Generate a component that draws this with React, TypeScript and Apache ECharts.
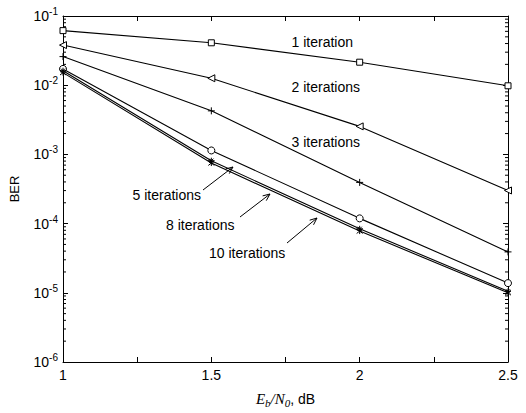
import React, { useEffect, useRef } from 'react';
import * as echarts from 'echarts';

// Eb/N0 in dB
const snrDb = [1, 1.5, 2, 2.5];
// BER per number of decoder iterations
const ber1 = [0.0615, 0.041, 0.0215, 0.0098];
const ber2 = [0.038, 0.0126, 0.00254, 0.000301];
const ber3 = [0.0259, 0.00426, 0.000394, 3.9e-5];
const ber5 = [0.0172, 0.00114, 0.000119, 1.38e-5];
const ber8 = [0.0162, 0.00081, 8.4e-5, 1.05e-5];
const ber10 = [0.0152, 0.00075, 7.8e-5, 1.0e-5];

const seriesNames = ['1 iteration', '2 iterations', '3 iterations', '5 iterations', '8 iterations', '10 iterations'];
const yMinorMultipliers = [2, 3, 4, 5, 6, 7, 8, 9];
const yDecades = [-6, -5, -4, -3, -2];

// annotation layout (pixels)
const labelLayout = [
  { text: '1 iteration', x: 353, y: 42, align: 'right' },
  { text: '2 iterations', x: 360, y: 87, align: 'right' },
  { text: '3 iterations', x: 360, y: 142, align: 'right' },
  { text: '5 iterations', x: 201, y: 195, align: 'right' },
  { text: '8 iterations', x: 166, y: 225, align: 'left' },
  { text: '10 iterations', x: 209, y: 253, align: 'left' },
];
const arrowLayout = [
  { from: [203, 190], to: [233, 167] },
  { from: [240, 217], to: [270, 194] },
  { from: [287, 243], to: [317, 218] },
];

const SYM_SQUARE = 'rect';
const SYM_TRI_LEFT = 'path://M0,5 L10,0 L10,10 Z';
const SYM_PLUS = 'path://M5,0 L5,10 M0,5 L10,5';
const SYM_STAR = 'path://M5,0 L5,10 M0,5 L10,5 M1.5,1.5 L8.5,8.5 M8.5,1.5 L1.5,8.5';
const SYM_X = 'path://M1,1 L9,9 M9,1 L1,9 M5,0 L5,10';

export default function App() {
  const ref = useRef<HTMLDivElement>(null);
  useEffect(() => {
    const chart = echarts.init(ref.current!, null, { renderer: 'svg' });
    const font = '"Liberation Sans", Arial, sans-serif';
    const allBer = [ber1, ber2, ber3, ber5, ber8, ber10];
    const symbols = [SYM_SQUARE, SYM_TRI_LEFT, SYM_PLUS, 'circle', SYM_STAR, SYM_X];
    const symbolSizes = [6, 7, 7, 7, 6, 6];

    const minorData: number[][] = [];
    yDecades.forEach((d) => yMinorMultipliers.forEach((m) => minorData.push([1, m * Math.pow(10, d)])));

    const lineSeries = allBer.map((arr, i) => ({
      type: 'line',
      name: seriesNames[i],
      data: snrDb.map((x, j) => [x, arr[j]]),
      symbol: symbols[i],
      symbolSize: symbolSizes[i],
      showAllSymbol: true,
      lineStyle: { color: '#000', width: 1.1 },
      itemStyle: { color: '#fff', borderColor: '#000', borderWidth: 1 },
      z: 3,
    }));

    const graphics: any[] = [];
    labelLayout.forEach((l) =>
      graphics.push({
        type: 'text',
        x: l.x,
        y: l.y,
        style: { text: l.text, fill: '#000', font: `14px ${font}`, align: l.align, verticalAlign: 'middle' },
      })
    );
    arrowLayout.forEach((a) => {
      const dx = a.to[0] - a.from[0];
      const dy = a.to[1] - a.from[1];
      const len = Math.sqrt(dx * dx + dy * dy);
      const ux = dx / len, uy = dy / len;
      const px = -uy, py = ux;
      const bx = a.to[0] - ux * 7, by = a.to[1] - uy * 7;
      graphics.push({
        type: 'polyline',
        shape: { points: [a.from, a.to] },
        style: { stroke: '#000', lineWidth: 1, fill: null },
      });
      graphics.push({
        type: 'polyline',
        shape: { points: [[bx + px * 3, by + py * 3], a.to, [bx - px * 3, by - py * 3]] },
        style: { stroke: '#000', lineWidth: 1, fill: null },
      });
    });

    const axisCommon = {
      axisLine: { show: true, lineStyle: { color: '#000', width: 1 } },
      splitLine: { show: false },
    };

    chart.setOption({
      animation: false,
      backgroundColor: '#fff',
      grid: { left: 62, right: 18, top: 16, bottom: 42, containLabel: false },
      xAxis: [
        {
          type: 'value',
          min: 1,
          max: 2.5,
          interval: 0.25,
          position: 'bottom',
          ...axisCommon,
          axisTick: { show: true, inside: true, length: 5, lineStyle: { color: '#000' } },
          axisLabel: {
            color: '#000',
            fontFamily: font,
            fontSize: 14,
            margin: 6,
            formatter: (v: number) => (Math.abs(v * 2 - Math.round(v * 2)) < 1e-9 ? String(v) : ''),
          },
          name: '{i|E}{sub|b}{i|/N}{sub|0}{n|, dB}',
          nameLocation: 'middle',
          nameGap: 27,
          nameTextStyle: {
            rich: {
              i: { fontFamily: '"Liberation Serif", "DejaVu Serif", serif', fontStyle: 'italic', fontSize: 15, color: '#000' },
              sub: { fontFamily: '"Liberation Serif", serif', fontStyle: 'italic', fontSize: 11, color: '#000', padding: [8, 0, 0, 0] },
              n: { fontFamily: font, fontSize: 14, color: '#000' },
            },
          },
        },
        {
          type: 'value',
          min: 1,
          max: 2.5,
          interval: 0.25,
          position: 'top',
          ...axisCommon,
          axisTick: { show: true, inside: true, length: 5, lineStyle: { color: '#000' } },
          axisLabel: { show: false },
        },
      ],
      yAxis: [
        {
          type: 'log',
          logBase: 10,
          min: 1e-6,
          max: 1e-1,
          position: 'left',
          ...axisCommon,
          axisTick: { show: true, inside: true, length: 5, lineStyle: { color: '#000' } },
          axisLabel: {
            color: '#000',
            margin: 5,
            formatter: (v: number) => `{b|10}{s|${Math.round(Math.log10(v))}}`,
            rich: {
              b: { fontFamily: font, fontSize: 14, color: '#000' },
              s: { fontFamily: font, fontSize: 10, color: '#000', padding: [0, 0, 9, 0] },
            },
          },
          name: 'BER',
          nameLocation: 'middle',
          nameGap: 42,
          nameTextStyle: { fontFamily: font, fontSize: 13, color: '#000' },
        },
        {
          type: 'log',
          logBase: 10,
          min: 1e-6,
          max: 1e-1,
          position: 'right',
          ...axisCommon,
          axisTick: { show: true, inside: true, length: 5, lineStyle: { color: '#000' } },
          axisLabel: { show: false },
        },
      ],
      series: [
        ...lineSeries,
        {
          type: 'custom',
          silent: true,
          clip: false,
          data: minorData,
          encode: { x: 0, y: 1 },
          z: 1,
          renderItem: (params: any, api: any) => {
            const v = api.value(1);
            const pl = api.coord([1, v]);
            const pr = api.coord([2.5, v]);
            return {
              type: 'group',
              children: [
                { type: 'line', shape: { x1: pl[0], y1: pl[1], x2: pl[0] + 3, y2: pl[1] }, style: { stroke: '#000', lineWidth: 1 } },
                { type: 'line', shape: { x1: pr[0] - 3, y1: pr[1], x2: pr[0], y2: pr[1] }, style: { stroke: '#000', lineWidth: 1 } },
              ],
            };
          },
        },
      ],
      graphic: graphics,
    });
    return () => chart.dispose();
  }, []);
  return <div ref={ref} style={{ position: 'fixed', left: 0, top: 0, width: 526, height: 413, background: '#fff' }} />;
}
